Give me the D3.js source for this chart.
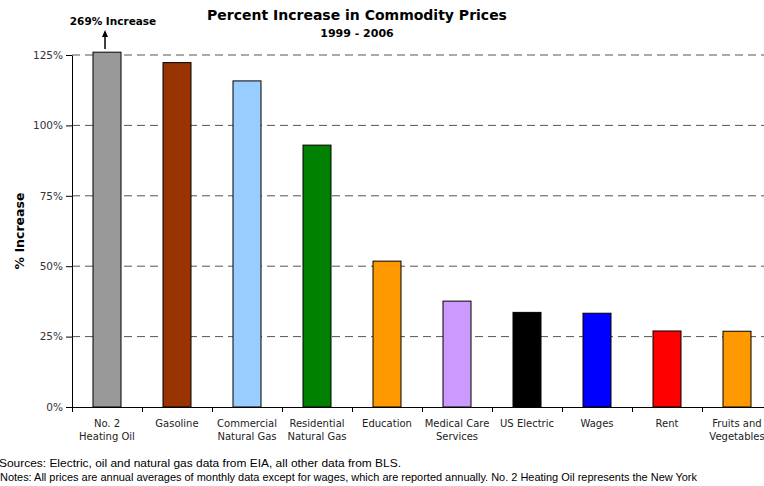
<!DOCTYPE html>
<html>
<head>
<meta charset="utf-8">
<script src="https://cdn.jsdelivr.net/npm/d3@7"></script>
<style>
  body { margin: 0; background: #fff; overflow: hidden; }
  svg { display: block; font-family: "DejaVu Sans", Verdana, sans-serif; }
</style>
</head>
<body>
<svg width="764" height="486"></svg>
<script>

// chart data
var categories = [
  ["No. 2", "Heating Oil"], ["Gasoline"], ["Commercial", "Natural Gas"],
  ["Residential", "Natural Gas"], ["Education"], ["Medical Care", "Services"],
  ["US Electric"], ["Wages"], ["Rent"], ["Fruits and", "Vegetables"]
];
var values = [269, 122.3, 115.8, 93, 51.8, 37.6, 33.6, 33.3, 27, 26.9];
var barColors = ["#999999", "#993300", "#99ccff", "#008000", "#ff9900",
                 "#cc99ff", "#000000", "#0000ff", "#ff0000", "#ff9900"];
var yTicks = [0, 25, 50, 75, 100, 125];

var svg = d3.select("svg");

var x = d3.scaleBand()
    .domain(d3.range(categories.length))
    .range([72, 772])
    .paddingInner(0.6)
    .paddingOuter(0.3);

var y = d3.scaleLinear().domain([0, 125]).range([407, 55]);

// gridlines
svg.append("g").selectAll("line")
    .data(yTicks.filter(function(d) { return d > 0; }))
  .enter().append("line")
    .attr("x1", 72).attr("x2", 772)
    .attr("y1", function(d) { return y(d); })
    .attr("y2", function(d) { return y(d); })
    .attr("stroke", "#555")
    .attr("stroke-width", 1)
    .attr("stroke-dasharray", "8,5");

// bars (heating oil is off the scale, cut just above 125%)
svg.append("g").selectAll("rect")
    .data(values)
  .enter().append("rect")
    .attr("x", function(d, i) { return x(i); })
    .attr("width", x.bandwidth())
    .attr("y", function(d) { return y(Math.min(d, 126)); })
    .attr("height", function(d) { return y(0) - y(Math.min(d, 126)); })
    .attr("fill", function(d, i) { return barColors[i]; })
    .attr("stroke", "#000")
    .attr("stroke-width", 1);

// y axis
var yAxis = svg.append("g")
    .attr("transform", "translate(72,0)")
    .call(d3.axisLeft(y).tickValues(yTicks)
      .tickFormat(function(d) { return d + "%"; })
      .tickSize(6).tickSizeOuter(0).tickPadding(3));
yAxis.select(".domain").attr("stroke", "#000");
yAxis.selectAll("text").attr("font-size", 10.5).attr("fill", "#333")
    .attr("font-family", "DejaVu Sans");

// x axis
var xEdges = d3.range(categories.length + 1).map(function(i) { return 72 + i * x.step(); });
var xAxis = svg.append("g");
xAxis.append("line")
    .attr("x1", 72).attr("x2", 772).attr("y1", 407.5).attr("y2", 407.5)
    .attr("stroke", "#000");
xAxis.selectAll("line.tick")
    .data(xEdges)
  .enter().append("line")
    .attr("class", "tick")
    .attr("x1", function(d) { return d + 0.5; }).attr("x2", function(d) { return d + 0.5; })
    .attr("y1", 407).attr("y2", 412)
    .attr("stroke", "#000");

var labels = xAxis.selectAll("text")
    .data(categories)
  .enter().append("text")
    .attr("text-anchor", "middle")
    .attr("font-size", 10)
    .attr("fill", "#222");
labels.selectAll("tspan")
    .data(function(d, i) { return d.map(function(s) { return {s: s, i: i}; }); })
  .enter().append("tspan")
    .attr("x", function(d) { return x(d.i) + x.bandwidth() / 2; })
    .attr("y", function(d, j) { return 427 + j * 13; })
    .text(function(d) { return d.s; });

// titles
svg.append("text")
    .attr("x", 357).attr("y", 20)
    .attr("text-anchor", "middle")
    .attr("font-size", 14).attr("font-weight", "bold")
    .text("Percent Increase in Commodity Prices");
svg.append("text")
    .attr("x", 357).attr("y", 37)
    .attr("text-anchor", "middle")
    .attr("font-size", 11).attr("font-weight", "bold")
    .text("1999 - 2006");

svg.append("text")
    .attr("transform", "translate(24,231) rotate(-90)")
    .attr("text-anchor", "middle")
    .attr("font-size", 12.5).attr("font-weight", "bold")
    .text("% Increase");

// off-scale annotation
var ax = x(0) + x.bandwidth() / 2 - 2;
svg.append("line")
    .attr("x1", ax).attr("x2", ax).attr("y1", 49).attr("y2", 36)
    .attr("stroke", "#000").attr("stroke-width", 1.5);
svg.append("path")
    .attr("d", "M" + (ax - 3) + ",37 L" + ax + ",30 L" + (ax + 3) + ",37 Z")
    .attr("fill", "#000");
svg.append("text")
    .attr("x", 113).attr("y", 25)
    .attr("text-anchor", "middle")
    .attr("font-size", 10.5).attr("font-weight", "bold")
    .text(values[0] + "% Increase");

// footnotes
var notes = svg.append("g")
    .attr("font-family", "'Liberation Sans Narrow', 'Liberation Sans', Arial, sans-serif")
    .attr("font-size", 11).attr("fill", "#000")
    .style("white-space", "pre");
notes.append("text").attr("x", -1).attr("y", 467)
    .attr("textLength", 402).attr("lengthAdjust", "spacingAndGlyphs")
    .text("Sources: Electric, oil and natural gas data from EIA, all other data from BLS.");
notes.append("text").attr("x", 0).attr("y", 481)
    .attr("textLength", 697).attr("lengthAdjust", "spacingAndGlyphs")
    .text("Notes: All prices are annual averages of monthly data except for wages, which are reported annually.  No. 2 Heating Oil represents the New York");

</script>
</body>
</html>
